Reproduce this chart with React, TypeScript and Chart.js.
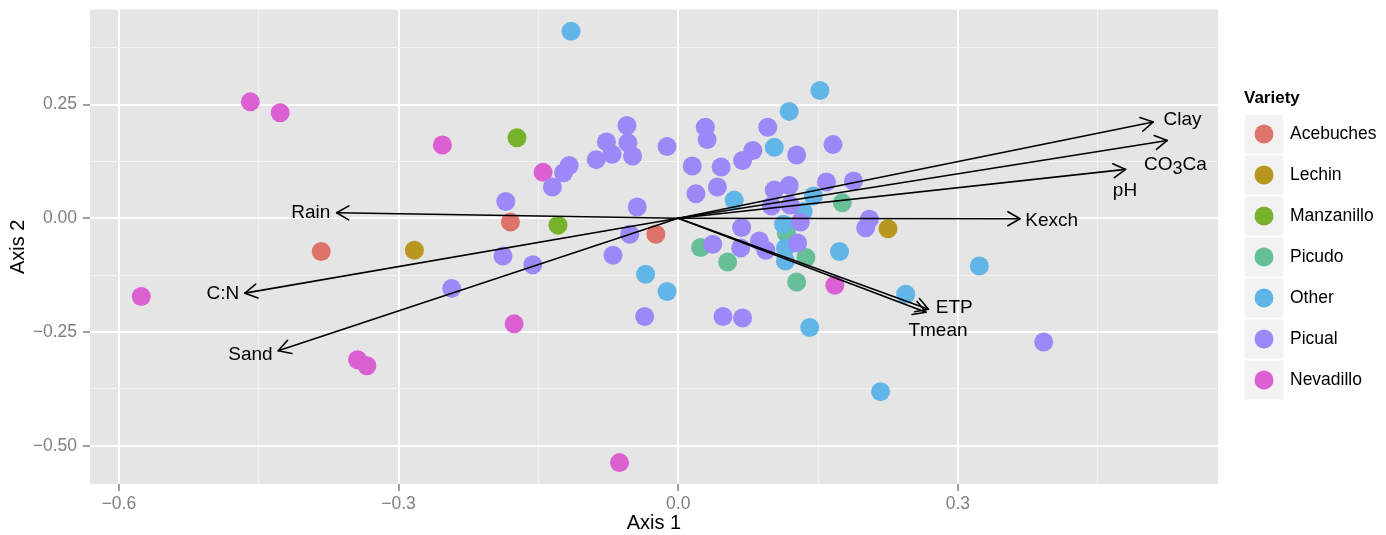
import React, { useEffect, useRef } from 'react';
import { Chart, registerables } from 'chart.js';

Chart.register(...registerables);

// ---------- Data ----------
const varieties = ['Acebuches', 'Lechin', 'Manzanillo', 'Picudo', 'Other', 'Picual', 'Nevadillo'];
const varietyColors = ['#DE7469', '#B9961F', '#76B22B', '#66BF97', '#62B5E7', '#9C88F7', '#DB60D1'];

const acebuchesX = [-0.383, -0.180, -0.024];
const acebuchesY = [-0.073, -0.008, -0.035];

const lechinX = [-0.283, 0.225];
const lechinY = [-0.070, -0.023];

const manzanilloX = [-0.173, -0.129];
const manzanilloY = [0.177, -0.015];

const picudoX = [0.024, 0.053, 0.116, 0.137, 0.127, 0.176];
const picudoY = [-0.064, -0.096, -0.033, -0.086, -0.140, 0.034];

const otherX = [-0.115, 0.152, 0.119, 0.103, 0.060, 0.145, 0.134, 0.113, 0.115, 0.115, 0.173, 0.141, -0.035, -0.012, 0.244, 0.323, 0.217];
const otherY = [0.411, 0.281, 0.235, 0.156, 0.040, 0.049, 0.015, -0.013, -0.065, -0.094, -0.073, -0.240, -0.123, -0.161, -0.167, -0.105, -0.381];

const picualX = [
  -0.185, -0.188, -0.156, -0.243, -0.135, -0.123, -0.117, -0.088, -0.077, -0.071,
  -0.055, -0.054, -0.049, -0.012, -0.044, -0.052, -0.070, -0.036, 0.015, 0.019,
  0.029, 0.031, 0.046, 0.042, 0.069, 0.080, 0.096, 0.127, 0.166, 0.103,
  0.119, 0.159, 0.188, 0.100, 0.120, 0.131, 0.205, 0.201, 0.068, 0.037,
  0.067, 0.087, 0.094, 0.128, 0.048, 0.069, 0.392,
];
const picualY = [
  0.037, -0.083, -0.102, -0.154, 0.069, 0.100, 0.116, 0.129, 0.168, 0.141,
  0.204, 0.166, 0.137, 0.158, 0.025, -0.035, -0.081, -0.216, 0.115, 0.054,
  0.200, 0.173, 0.113, 0.069, 0.127, 0.149, 0.200, 0.139, 0.162, 0.062,
  0.072, 0.080, 0.082, 0.027, 0.029, -0.008, -0.002, -0.021, -0.020, -0.057,
  -0.065, -0.050, -0.070, -0.054, -0.216, -0.219, -0.272,
];

const nevadilloX = [-0.576, -0.459, -0.427, -0.253, -0.145, -0.176, -0.344, -0.334, -0.063, 0.168];
const nevadilloY = [-0.172, 0.256, 0.232, 0.161, 0.101, -0.232, -0.311, -0.324, -0.537, -0.147];

// Biplot arrows (loadings) and their label positions
const arrowNames = ['Clay', 'CO3Ca', 'pH', 'Kexch', 'ETP', 'Tmean', 'Rain', 'C:N', 'Sand'];
const arrowLabelParts = [['Clay'], ['CO', '3', 'Ca'], ['pH'], ['Kexch'], ['ETP'], ['Tmean'], ['Rain'], ['C:N'], ['Sand']];
const arrowX = [0.5095, 0.5246, 0.4799, 0.3666, 0.2684, 0.2657, -0.3664, -0.4648, -0.4291];
const arrowY = [0.2118, 0.1711, 0.1075, -0.001, -0.2000, -0.2066, 0.0123, -0.1645, -0.2910];
const labelX = [0.5409, 0.5334, 0.4792, 0.4006, 0.2960, 0.2786, -0.3942, -0.4884, -0.4589];
const labelY = [0.2167, 0.1184, 0.0599, -0.0059, -0.1967, -0.2471, 0.0123, -0.1654, -0.3009];

// Axes
const xMajorTicks = [-0.6, -0.3, 0, 0.3];
const xMinorTicks = [-0.45, -0.15, 0.15, 0.45];
const xTickLabels = ['\u22120.6', '\u22120.3', '0.0', '0.3'];
const yMajorTicks = [-0.5, -0.25, 0, 0.25];
const yMinorTicks = [-0.375, -0.125, 0.125, 0.375];
const yTickLabels = ['\u22120.50', '\u22120.25', '0.00', '0.25'];
const xRange = [-0.631, 0.579];
const yRange = [-0.584, 0.459];
const xTitle = 'Axis 1';
const yTitle = 'Axis 2';
const legendTitle = 'Variety';

const seriesX = [acebuchesX, lechinX, manzanilloX, picudoX, otherX, picualX, nevadilloX];
const seriesY = [acebuchesY, lechinY, manzanilloY, picudoY, otherY, picualY, nevadilloY];
const drawOrder = [5, 4, 3, 0, 1, 2, 6];

const FONT = "'Liberation Sans', Arial, Helvetica, sans-serif";

const idxOf = (v: number, list: number[]) => list.findIndex((t) => Math.abs(t - v) < 1e-6);

const panelBg = {
  id: 'panelBg',
  beforeDraw(chart: any) {
    const { ctx, chartArea: a } = chart;
    ctx.save();
    ctx.fillStyle = '#E5E5E5';
    ctx.fillRect(a.left, a.top, a.right - a.left, a.bottom - a.top);
    ctx.restore();
  },
};

const arrowsPlugin = {
  id: 'biplotArrows',
  afterDatasetsDraw(chart: any) {
    const { ctx } = chart;
    const xs = chart.scales.x;
    const ys = chart.scales.y;
    const ox = xs.getPixelForValue(0);
    const oy = ys.getPixelForValue(0);
    ctx.save();
    ctx.strokeStyle = '#000';
    ctx.lineWidth = 1.6;
    ctx.lineCap = 'round';
    ctx.lineJoin = 'round';
    const L = 14;
    arrowNames.forEach((_, i) => {
      const tx = xs.getPixelForValue(arrowX[i]);
      const ty = ys.getPixelForValue(arrowY[i]);
      ctx.beginPath();
      ctx.moveTo(ox, oy);
      ctx.lineTo(tx, ty);
      ctx.stroke();
      const ang = Math.atan2(ty - oy, tx - ox);
      ctx.beginPath();
      const a1 = ang + Math.PI - Math.PI / 6;
      const a2 = ang + Math.PI + Math.PI / 6;
      ctx.moveTo(tx + L * Math.cos(a1), ty + L * Math.sin(a1));
      ctx.lineTo(tx, ty);
      ctx.lineTo(tx + L * Math.cos(a2), ty + L * Math.sin(a2));
      ctx.stroke();
    });
    // labels
    ctx.fillStyle = '#000';
    ctx.textBaseline = 'middle';
    ctx.textAlign = 'left';
    const mainFont = `19px ${FONT}`;
    const subFont = `18px ${FONT}`;
    arrowLabelParts.forEach((parts, i) => {
      const cx = xs.getPixelForValue(labelX[i]);
      const cy = ys.getPixelForValue(labelY[i]);
      let total = 0;
      const widths = parts.map((p, k) => {
        ctx.font = k % 2 === 1 ? subFont : mainFont;
        const w = ctx.measureText(p).width;
        total += w;
        return w;
      });
      let x = cx - total / 2;
      parts.forEach((p, k) => {
        const sub = k % 2 === 1;
        ctx.font = sub ? subFont : mainFont;
        ctx.fillText(p, x, cy + (sub ? 5 : 0));
        x += widths[k];
      });
    });
    ctx.restore();
  },
};

const legendPlugin = {
  id: 'ggLegend',
  afterDraw(chart: any) {
    const { ctx, chartArea: a } = chart;
    const lx = a.right + 27;
    const top = 114.5;
    const step = 41;
    const bw = 38;
    const bh = 39;
    ctx.save();
    ctx.fillStyle = '#000';
    ctx.textBaseline = 'middle';
    ctx.textAlign = 'left';
    ctx.font = `bold 17px ${FONT}`;
    ctx.fillText(legendTitle, lx - 1, 98);
    varieties.forEach((name, i) => {
      const y0 = top + i * step;
      ctx.fillStyle = '#F2F2F2';
      ctx.fillRect(lx, y0, bw, bh);
      ctx.fillStyle = varietyColors[i];
      ctx.beginPath();
      ctx.arc(lx + bw / 2, y0 + bh / 2, 9.5, 0, Math.PI * 2);
      ctx.fill();
      ctx.fillStyle = '#000';
      ctx.font = `17.5px ${FONT}`;
      ctx.fillText(name, lx + 45, y0 + bh / 2 + 0.5);
    });
    ctx.restore();
  },
};

export default function App() {
  const canvasRef = useRef<HTMLCanvasElement | null>(null);

  useEffect(() => {
    document.body.style.margin = '0';
    const canvas = canvasRef.current;
    if (!canvas) return;

    const datasets = drawOrder.map((vi) => ({
      label: varieties[vi],
      data: seriesX[vi].map((x, j) => ({ x, y: seriesY[vi][j] })),
      backgroundColor: varietyColors[vi],
      borderWidth: 0,
      pointRadius: 9.5,
      pointHoverRadius: 9.5,
    }));

    const gridOpts = (major: number[]) => ({
      color: (c: any) => (c.tick && idxOf(c.tick.value, major) >= 0 ? '#FFFFFF' : '#F2F2F2'),
      lineWidth: (c: any) => (c.tick && idxOf(c.tick.value, major) >= 0 ? 2 : 1),
      tickColor: (c: any) => (c.tick && idxOf(c.tick.value, major) >= 0 ? '#7F7F7F' : 'rgba(0,0,0,0)'),
      tickLength: 7,
      tickWidth: 1.5,
      drawTicks: true,
    });

    const chart = new Chart(canvas, {
      type: 'scatter',
      data: { datasets },
      plugins: [panelBg, arrowsPlugin, legendPlugin],
      options: {
        responsive: false,
        animation: false,
        devicePixelRatio: 1,
        events: [],
        layout: { padding: { left: 0, top: 8, right: 168, bottom: 0 } },
        plugins: { legend: { display: false }, tooltip: { enabled: false } },
        scales: {
          x: {
            type: 'linear',
            min: xRange[0],
            max: xRange[1],
            afterBuildTicks: (s: any) => {
              s.ticks = [...xMajorTicks, ...xMinorTicks].sort((p, q) => p - q).map((value) => ({ value }));
            },
            afterFit: (s: any) => {
              s.height = 51;
              s.paddingLeft = 0;
              s.paddingRight = 0;
              s.paddingTop = 0;
              s.paddingBottom = 0;
            },
            ticks: {
              autoSkip: false,
              maxRotation: 0,
              padding: 3,
              color: '#7F7F7F',
              font: { family: FONT, size: 17.5 },
              callback: (v: any) => {
                const k = idxOf(Number(v), xMajorTicks);
                return k >= 0 ? xTickLabels[k] : '';
              },
            },
            grid: gridOpts(xMajorTicks),
            border: { display: false },
            title: {
              display: true,
              text: xTitle,
              color: '#000',
              font: { family: FONT, size: 20 },
              padding: { top: 0, bottom: 0 },
            },
          },
          y: {
            type: 'linear',
            min: yRange[0],
            max: yRange[1],
            afterBuildTicks: (s: any) => {
              s.ticks = [...yMajorTicks, ...yMinorTicks].sort((p, q) => p - q).map((value) => ({ value }));
            },
            afterFit: (s: any) => {
              s.width = 90;
              s.paddingLeft = 0;
              s.paddingRight = 0;
              s.paddingTop = 0;
              s.paddingBottom = 0;
            },
            ticks: {
              autoSkip: false,
              padding: 6,
              color: '#7F7F7F',
              font: { family: FONT, size: 17.5 },
              callback: (v: any) => {
                const k = idxOf(Number(v), yMajorTicks);
                return k >= 0 ? yTickLabels[k] : '';
              },
            },
            grid: gridOpts(yMajorTicks),
            border: { display: false },
            title: {
              display: true,
              text: yTitle,
              color: '#000',
              font: { family: FONT, size: 20 },
              padding: { top: 6, bottom: 0 },
            },
          },
        },
      } as any,
    });

    return () => {
      chart.destroy();
    };
  }, []);

  return (
    <div style={{ width: 1386, height: 535, background: '#FFFFFF' }}>
      <canvas ref={canvasRef} width={1386} height={535} style={{ display: 'block' }} />
    </div>
  );
}
